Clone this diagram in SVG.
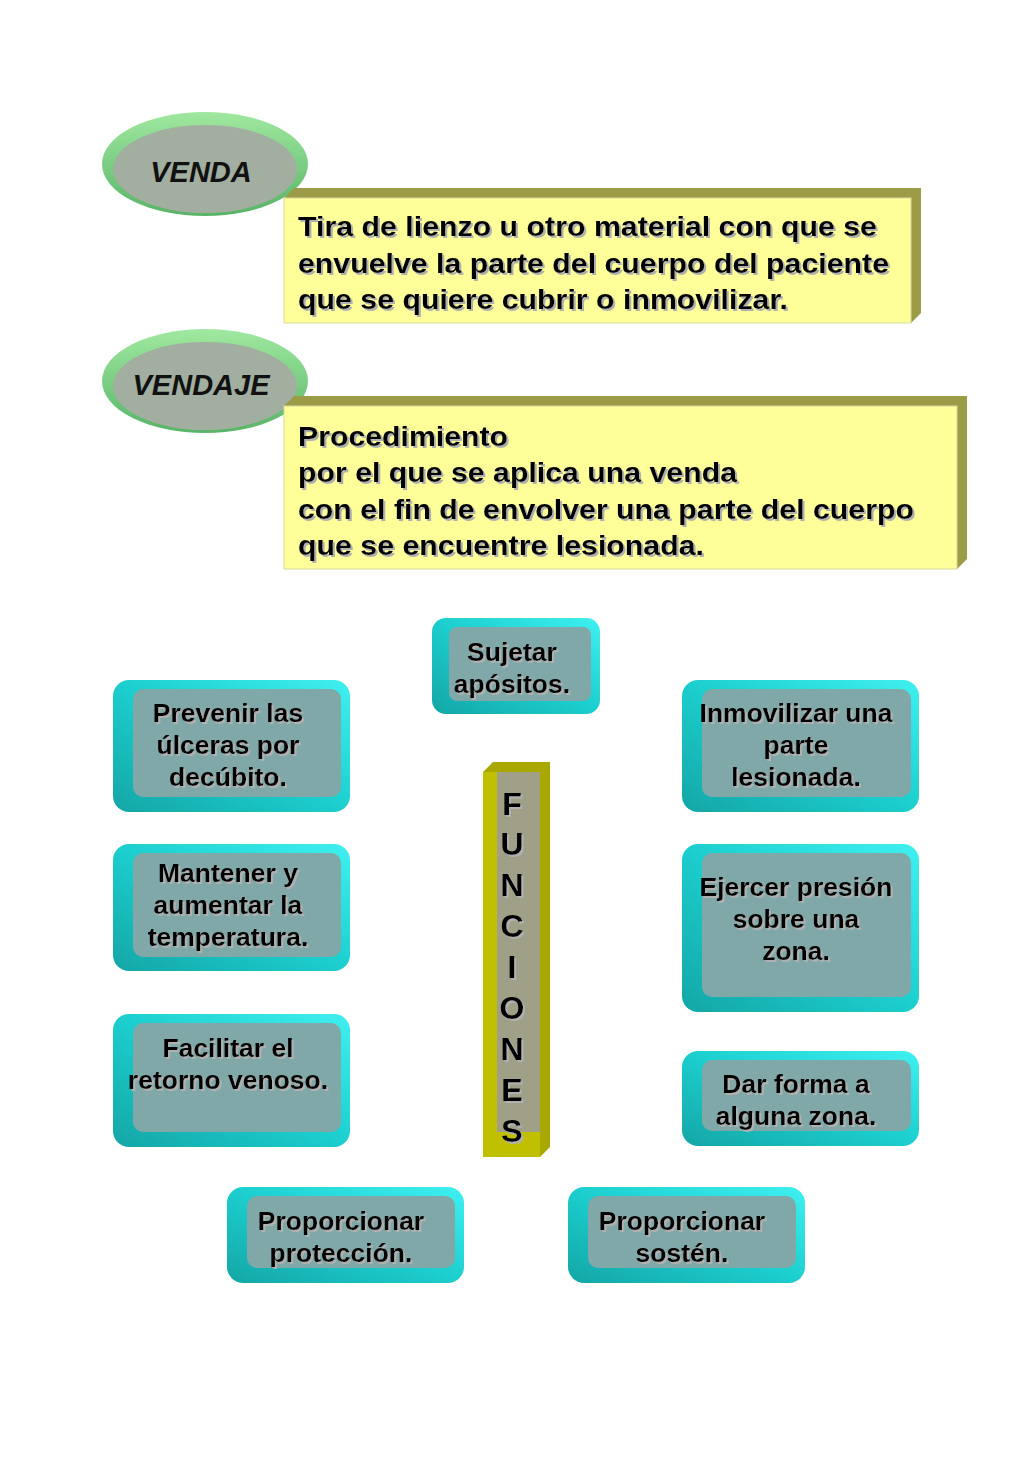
<svg xmlns="http://www.w3.org/2000/svg" width="1024" height="1479" viewBox="0 0 1024 1479">
<defs>
<linearGradient id="gEll" x1="0" y1="0" x2="0" y2="1">
<stop offset="0" stop-color="#a0e8a0"/><stop offset="1" stop-color="#58b468"/>
</linearGradient>
<linearGradient id="gTeal" x1="1" y1="0" x2="0" y2="1">
<stop offset="0" stop-color="#40f0f0"/><stop offset="0.5" stop-color="#1ccece"/><stop offset="1" stop-color="#14a6a6"/>
</linearGradient>
<filter id="sh" x="-10%" y="-10%" width="130%" height="140%">
<feDropShadow dx="2" dy="2" stdDeviation="0.6" flood-color="#b0b0b0" flood-opacity="1"/>
</filter>
<style>
.t{font-family:"Liberation Sans",Arial,sans-serif;font-weight:bold;fill:#000;filter:url(#sh)}
.y{font-size:28px}
.c{font-size:26.5px;text-anchor:middle}
.e{font-family:"Liberation Sans",Arial,sans-serif;font-style:italic;font-weight:bold;font-size:29px;fill:#111;text-anchor:middle}
.lt{font-size:32px;text-anchor:middle}
.out{fill:url(#gTeal)}
.face{fill:#80a8a8}
.front{fill:#ffff99;stroke:#d8d8a0;stroke-width:1}
.bev{fill:#9b9b48}
</style>
</defs>

<g id="venda">
<ellipse cx="205" cy="164" rx="103" ry="52" fill="url(#gEll)"/>
<ellipse cx="205" cy="169" rx="92" ry="44" fill="#a2afa0"/>
<text class="e" x="201" y="182">VENDA</text>
</g>

<g id="venda-def">
<polygon class="bev" points="284,198 294,188 921,188 921,313 911,323 911,198"/>
<rect class="front" x="284" y="198" width="627" height="125"/>
<text class="t y" x="298" y="236" textLength="579" lengthAdjust="spacingAndGlyphs">Tira de lienzo u otro material con que se</text>
<text class="t y" x="298" y="273" textLength="591" lengthAdjust="spacingAndGlyphs">envuelve la parte del cuerpo del paciente</text>
<text class="t y" x="298" y="309" textLength="490" lengthAdjust="spacingAndGlyphs">que se quiere cubrir o inmovilizar.</text>
</g>

<g id="vendaje">
<ellipse cx="205" cy="381" rx="103" ry="52" fill="url(#gEll)"/>
<ellipse cx="205" cy="386" rx="92" ry="44" fill="#a2afa0"/>
<text class="e" x="201" y="395">VENDAJE</text>
</g>

<g id="vendaje-def">
<polygon class="bev" points="284,406 294,396 967,396 967,559 957,569 957,406"/>
<rect class="front" x="284" y="406" width="673" height="163"/>
<text class="t y" x="298" y="446" textLength="210" lengthAdjust="spacingAndGlyphs">Procedimiento</text>
<text class="t y" x="298" y="482" textLength="439" lengthAdjust="spacingAndGlyphs">por el que se aplica una venda</text>
<text class="t y" x="298" y="519" textLength="616" lengthAdjust="spacingAndGlyphs">con el fin de envolver una parte del cuerpo</text>
<text class="t y" x="298" y="555" textLength="406" lengthAdjust="spacingAndGlyphs">que se encuentre lesionada.</text>
</g>

<g id="funciones">
<polygon points="483,772 493,762 550,762 550,1147 540,1157 540,772" fill="#a8a800"/>
<rect x="483" y="772" width="57" height="385" fill="#c0c000"/>
<rect x="497" y="772" width="43" height="360" fill="#a0a088"/>
<text class="t lt" x="512" y="815">F</text>
<text class="t lt" x="512" y="855">U</text>
<text class="t lt" x="512" y="896">N</text>
<text class="t lt" x="512" y="937">C</text>
<text class="t lt" x="512" y="978">I</text>
<text class="t lt" x="512" y="1019">O</text>
<text class="t lt" x="512" y="1060">N</text>
<text class="t lt" x="512" y="1101">E</text>
<text class="t lt" x="512" y="1142">S</text>
</g>

<g id="sujetar">
<rect class="out" x="432" y="618" width="168" height="96" rx="14"/>
<rect class="face" x="449" y="627" width="142" height="74" rx="8"/>
<text class="t c" x="512" y="661">Sujetar</text>
<text class="t c" x="512" y="693">apósitos.</text>
</g>

<g id="prevenir">
<rect class="out" x="113" y="680" width="237" height="132" rx="16"/>
<rect class="face" x="133" y="689" width="208" height="108" rx="10"/>
<text class="t c" x="228" y="722">Prevenir las</text>
<text class="t c" x="228" y="754">úlceras por</text>
<text class="t c" x="228" y="786">decúbito.</text>
</g>

<g id="mantener">
<rect class="out" x="113" y="844" width="237" height="127" rx="16"/>
<rect class="face" x="133" y="853" width="208" height="104" rx="10"/>
<text class="t c" x="228" y="882">Mantener y</text>
<text class="t c" x="228" y="914">aumentar la</text>
<text class="t c" x="228" y="946">temperatura.</text>
</g>

<g id="facilitar">
<rect class="out" x="113" y="1014" width="237" height="133" rx="16"/>
<rect class="face" x="133" y="1023" width="208" height="109" rx="10"/>
<text class="t c" x="228" y="1057">Facilitar el</text>
<text class="t c" x="228" y="1089">retorno venoso.</text>
</g>

<g id="inmovilizar">
<rect class="out" x="682" y="680" width="237" height="132" rx="16"/>
<rect class="face" x="702" y="689" width="209" height="108" rx="10"/>
<text class="t c" x="796" y="722">Inmovilizar una</text>
<text class="t c" x="796" y="754">parte</text>
<text class="t c" x="796" y="786">lesionada.</text>
</g>

<g id="ejercer">
<rect class="out" x="682" y="844" width="237" height="168" rx="16"/>
<rect class="face" x="702" y="853" width="209" height="144" rx="10"/>
<text class="t c" x="796" y="896">Ejercer presión</text>
<text class="t c" x="796" y="928">sobre una</text>
<text class="t c" x="796" y="960">zona.</text>
</g>

<g id="dar-forma">
<rect class="out" x="682" y="1051" width="237" height="95" rx="16"/>
<rect class="face" x="702" y="1060" width="209" height="71" rx="10"/>
<text class="t c" x="796" y="1093">Dar forma a</text>
<text class="t c" x="796" y="1125">alguna zona.</text>
</g>

<g id="proteccion">
<rect class="out" x="227" y="1187" width="237" height="96" rx="16"/>
<rect class="face" x="247" y="1196" width="208" height="72" rx="10"/>
<text class="t c" x="341" y="1230">Proporcionar</text>
<text class="t c" x="341" y="1262">protección.</text>
</g>

<g id="sosten">
<rect class="out" x="568" y="1187" width="237" height="96" rx="16"/>
<rect class="face" x="588" y="1196" width="208" height="72" rx="10"/>
<text class="t c" x="682" y="1230">Proporcionar</text>
<text class="t c" x="682" y="1262">sostén.</text>
</g>

<g id="connectors"/>
</svg>
